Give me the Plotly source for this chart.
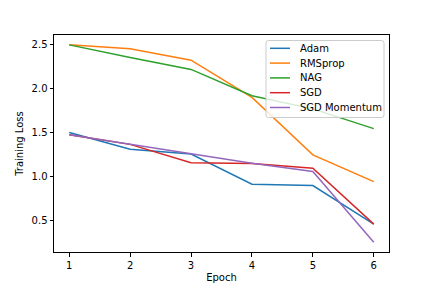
import plotly.graph_objects as go

epochs = [1, 2, 3, 4, 5, 6]
adam = [1.50, 1.31, 1.255, 0.91, 0.895, 0.455]
rmsprop = [2.50, 2.455, 2.325, 1.90, 1.245, 0.94]
nag = [2.50, 2.355, 2.22, 1.92, 1.77, 1.545]
sgd = [1.475, 1.365, 1.155, 1.148, 1.094, 0.455]
sgd_momentum = [1.475, 1.365, 1.254, 1.15, 1.056, 0.25]

names = ["Adam", "RMSprop", "NAG", "SGD", "SGD Momentum"]
values = [adam, rmsprop, nag, sgd, sgd_momentum]
colors = ["#1f77b4", "#ff7f0e", "#2ca02c", "#d62728", "#9467bd"]

W, H = 432, 288
L, R, T, B = 54, 43, 35, 36
PW, PH = W - L - R, H - T - B

fig = go.Figure()
for name, vals, color in zip(names, values, colors):
    fig.add_trace(go.Scatter(x=epochs, y=vals, mode="lines", name=name,
                             line=dict(color=color, width=1.5), showlegend=False))

font = "DejaVu Sans"
axis_common = dict(showgrid=False, zeroline=False, showline=True, linecolor="black",
                   linewidth=1, mirror=True, ticks="outside", ticklen=3.5,
                   tickwidth=1, tickcolor="black", automargin=False,
                   tickfont=dict(family=font, size=10, color="black"))

# manual matplotlib-style legend (pixel positions -> paper coords)
def px(xp):
    return (xp - L) / PW

def py(yp):
    return 1 - (yp - T) / PH

x0, x1, y0, y1, r = 266, 384, 40.5, 117.5, 2.5
path = (f"M {px(x0 + r)} {py(y0)} L {px(x1 - r)} {py(y0)} "
        f"Q {px(x1)} {py(y0)} {px(x1)} {py(y0 + r)} "
        f"L {px(x1)} {py(y1 - r)} Q {px(x1)} {py(y1)} {px(x1 - r)} {py(y1)} "
        f"L {px(x0 + r)} {py(y1)} Q {px(x0)} {py(y1)} {px(x0)} {py(y1 - r)} "
        f"L {px(x0)} {py(y0 + r)} Q {px(x0)} {py(y0)} {px(x0 + r)} {py(y0)} Z")
shapes = [dict(type="path", path=path, xref="paper", yref="paper", layer="above",
               fillcolor="rgba(255,255,255,0.8)", line=dict(color="#cccccc", width=1))]
annotations = []
for i, (name, color) in enumerate(zip(names, colors)):
    yc = 48.3 + i * 14.8
    shapes.append(dict(type="line", xref="paper", yref="paper", layer="above",
                       x0=px(270), x1=px(290), y0=py(yc), y1=py(yc),
                       line=dict(color=color, width=1.5)))
    annotations.append(dict(text=name, xref="paper", yref="paper", x=px(298), y=py(yc),
                            xanchor="left", yanchor="middle", showarrow=False,
                            font=dict(family=font, size=10, color="black")))

fig.update_layout(
    width=W, height=H,
    margin=dict(l=L, r=R, t=T, b=B),
    paper_bgcolor="white", plot_bgcolor="white",
    font=dict(family=font, size=10, color="black"),
    showlegend=False,
    shapes=shapes,
    annotations=annotations,
)
fig.update_xaxes(range=[0.75, 6.25], tickvals=epochs,
                 title=dict(text="Epoch", font=dict(family=font, size=10), standoff=4),
                 **axis_common)
fig.update_yaxes(range=[0.1375, 2.6125], tickvals=[0.5, 1.0, 1.5, 2.0, 2.5], tickformat=".1f",
                 title=dict(text="Training Loss", font=dict(family=font, size=10), standoff=6),
                 **axis_common)

fig.write_html("out.html")
